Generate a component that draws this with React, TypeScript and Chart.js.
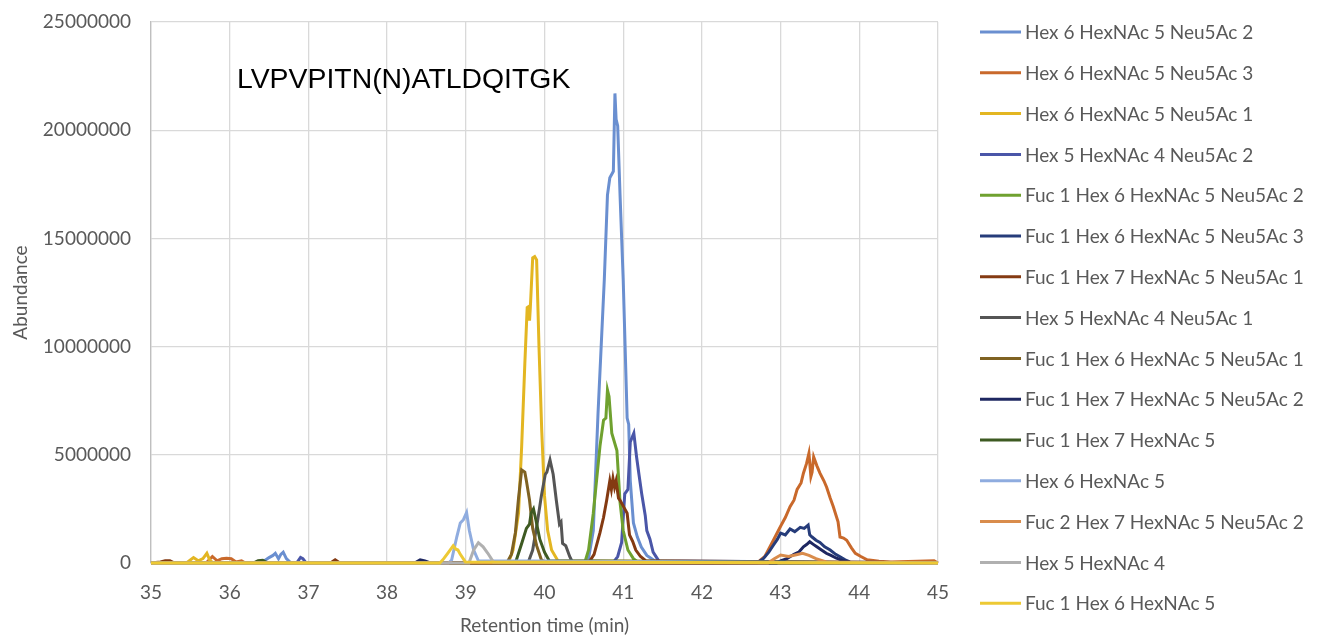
import React, { useEffect, useRef } from 'react';
import { Chart, registerables } from 'chart.js';

Chart.register(...registerables);

const PEPTIDE = 'LVPVPITN(N)ATLDQITGK';
const X_TITLE = 'Retention time (min)';
const Y_TITLE = 'Abundance';
const X_MIN = 35;
const X_MAX = 45;
const X_STEP = 1;
const Y_MIN = 0;
const Y_MAX = 25000000;
const Y_STEP = 5000000;
const MILLION = 1000000;

const seriesNames = [
  'Hex 6 HexNAc 5 Neu5Ac 2',
  'Hex 6 HexNAc 5 Neu5Ac 3',
  'Hex 6 HexNAc 5 Neu5Ac 1',
  'Hex 5 HexNAc 4 Neu5Ac 2',
  'Fuc 1 Hex 6 HexNAc 5 Neu5Ac 2',
  'Fuc 1 Hex 6 HexNAc 5 Neu5Ac 3',
  'Fuc 1 Hex 7 HexNAc 5 Neu5Ac 1',
  'Hex 5 HexNAc 4 Neu5Ac 1',
  'Fuc 1 Hex 6 HexNAc 5 Neu5Ac 1',
  'Fuc 1 Hex 7 HexNAc 5 Neu5Ac 2',
  'Fuc 1 Hex 7 HexNAc 5',
  'Hex 6 HexNAc 5',
  'Fuc 2 Hex 7 HexNAc 5 Neu5Ac 2',
  'Hex 5 HexNAc 4',
  'Fuc 1 Hex 6 HexNAc 5',
];

const seriesColors = [
  '#6A8FD0',
  '#C9692B',
  '#E3B622',
  '#4A56A8',
  '#6FA12F',
  '#263C7A',
  '#843A12',
  '#555555',
  '#7F6222',
  '#1E2761',
  '#3E5A22',
  '#8FACDF',
  '#D98C4C',
  '#B0B0B0',
  '#EDC934',
];

// Retention times (min) and abundances (millions)
const s1Time = [35, 36.4, 36.5, 36.55, 36.58, 36.62, 36.65, 36.68, 36.72, 36.78, 40.55, 40.62, 40.68, 40.72, 40.76, 40.8, 40.83, 40.86, 40.875, 40.895, 40.91, 40.93, 40.96, 41.0, 41.04, 41.05, 41.07, 41.09, 41.13, 41.18, 41.23, 41.3, 41.4, 45];
const s1Abund = [0, 0, 0.25, 0.35, 0.45, 0.2, 0.4, 0.5, 0.2, 0, 0, 1.5, 6.9, 10.0, 13.1, 17.0, 17.8, 18.0, 18.1, 21.7, 20.5, 20.2, 17.0, 13.1, 8.0, 6.7, 6.4, 3.8, 1.85, 1.2, 0.74, 0.35, 0.1, 0];

const s2Time = [35, 35.7, 35.78, 35.84, 35.9, 35.96, 36.02, 36.08, 36.15, 36.2, 36.25, 42.7, 42.8, 42.91, 43.0, 43.06, 43.12, 43.17, 43.21, 43.26, 43.29, 43.33, 43.36, 43.385, 43.4, 43.42, 43.46, 43.5, 43.55, 43.585, 43.63, 43.67, 43.73, 43.755, 43.8, 43.84, 43.9, 43.95, 44.02, 44.1, 44.25, 44.4, 44.95, 45];
const s2Abund = [0, 0, 0.3, 0.1, 0.2, 0.22, 0.2, 0.05, 0.1, 0, 0, 0, 0.3, 1.06, 1.7, 2.1, 2.6, 2.9, 3.4, 3.7, 4.15, 4.6, 5.07, 4.0, 4.2, 4.9, 4.5, 4.15, 3.8, 3.5, 3.0, 2.6, 1.9, 1.2, 1.15, 1.05, 0.7, 0.45, 0.3, 0.15, 0.08, 0.05, 0.1, 0];

const s3Time = [35, 35.45, 35.54, 35.6, 35.66, 35.71, 35.75, 35.8, 39.54, 39.6, 39.67, 39.71, 39.75, 39.78, 39.8, 39.81, 39.82, 39.85, 39.875, 39.9, 39.93, 39.965, 40.0, 40.04, 40.09, 40.17, 45];
const s3Abund = [0, 0, 0.25, 0.1, 0.2, 0.45, 0.1, 0, 0, 0.6, 2.3, 5.4, 9.2, 11.8, 11.85, 11.2, 11.8, 14.1, 14.16, 14.0, 10.0, 6.1, 3.1, 1.5, 0.6, 0.1, 0];

const s4Time = [35, 36.85, 36.9, 36.93, 36.97, 40.87, 40.93, 40.98, 41.02, 41.06, 41.09, 41.135, 41.17, 41.2, 41.235, 41.28, 41.3, 41.34, 41.38, 41.46, 45];
const s4Abund = [0, 0, 0.26, 0.2, 0, 0, 0.3, 0.95, 3.2, 3.4, 5.6, 6.0, 4.9, 4.1, 3.2, 2.2, 1.5, 1.1, 0.5, 0.05, 0];

const s5Time = [35, 40.51, 40.56, 40.62, 40.705, 40.75, 40.78, 40.8, 40.82, 40.855, 40.92, 40.96, 41.0, 41.06, 41.13, 41.2, 45];
const s5Abund = [0, 0, 0.6, 2.3, 5.4, 6.6, 6.7, 8.0, 7.7, 6.0, 5.2, 2.8, 1.5, 0.6, 0.2, 0, 0];

const s6Time = [35, 42.7, 42.78, 42.85, 42.91, 42.96, 43.0, 43.06, 43.12, 43.18, 43.25, 43.3, 43.35, 43.37, 43.4, 43.45, 43.5, 43.56, 43.63, 43.7, 43.75, 43.82, 43.88, 45];
const s6Abund = [0, 0, 0.2, 0.5, 0.83, 1.1, 1.38, 1.3, 1.57, 1.45, 1.65, 1.6, 1.75, 1.3, 1.2, 1.05, 0.95, 0.75, 0.6, 0.4, 0.3, 0.15, 0.05, 0];

const s7Time = [35, 35.12, 35.18, 35.24, 35.3, 37.28, 37.34, 37.4, 40.56, 40.63, 40.705, 40.75, 40.79, 40.83, 40.85, 40.87, 40.89, 40.91, 40.94, 40.96, 41.02, 41.05, 41.08, 41.12, 41.16, 41.22, 41.29, 45];
const s7Abund = [0, 0.05, 0.1, 0.1, 0, 0, 0.15, 0, 0, 0.4, 1.4, 2.1, 2.9, 3.8, 3.4, 3.9, 3.5, 3.8, 3.0, 2.9, 2.5, 2.3, 1.3, 1.0, 0.6, 0.3, 0.1, 0];

const s8Time = [35, 39.79, 39.85, 39.91, 39.96, 40.01, 40.03, 40.07, 40.11, 40.15, 40.19, 40.21, 40.23, 40.27, 40.32, 40.36, 45];
const s8Abund = [0, 0, 0.6, 1.9, 3.1, 4.1, 4.2, 4.76, 4.1, 2.9, 1.8, 1.9, 0.9, 0.8, 0.3, 0, 0];

const s9Time = [35, 39.52, 39.58, 39.63, 39.67, 39.71, 39.75, 39.77, 39.81, 39.85, 39.9, 39.96, 40.02, 45];
const s9Abund = [0, 0, 0.4, 1.4, 3.0, 4.3, 4.2, 3.8, 2.9, 1.6, 0.8, 0.15, 0, 0];

const s10Time = [35, 38.35, 38.42, 38.48, 38.55, 42.95, 43.0, 43.08, 43.17, 43.23, 43.29, 43.33, 43.37, 43.42, 43.46, 43.52, 43.58, 43.64, 43.71, 43.8, 43.88, 45];
const s10Abund = [0, 0, 0.15, 0.1, 0, 0, 0.1, 0.2, 0.4, 0.5, 0.75, 0.85, 0.98, 0.85, 0.75, 0.6, 0.45, 0.35, 0.22, 0.1, 0.04, 0];

const s11Time = [35, 36.3, 36.36, 36.42, 36.48, 39.63, 39.71, 39.77, 39.81, 39.83, 39.86, 39.89, 39.94, 40.0, 40.06, 45];
const s11Abund = [0, 0, 0.1, 0.12, 0, 0, 0.9, 1.6, 1.8, 2.3, 2.5, 2.0, 1.1, 0.5, 0.1, 0];

const s12Time = [35, 38.78, 38.82, 38.885, 38.93, 38.97, 39.01, 39.045, 39.1, 39.16, 45];
const s12Abund = [0, 0, 0.14, 1.2, 1.85, 2.0, 2.33, 1.5, 0.6, 0.1, 0];

const s13Time = [35, 42.84, 42.92, 43.0, 43.1, 43.2, 43.28, 43.36, 43.45, 43.52, 43.58, 45];
const s13Abund = [0, 0, 0.2, 0.37, 0.3, 0.38, 0.45, 0.35, 0.2, 0.12, 0.05, 0];

const s14Time = [35, 39.04, 39.1, 39.16, 39.22, 39.28, 39.35, 45];
const s14Abund = [0, 0, 0.6, 0.94, 0.75, 0.45, 0.05, 0];

const s15Time = [35, 38.67, 38.72, 38.77, 38.84, 38.87, 38.9, 38.93, 38.995, 45];
const s15Abund = [0, 0, 0.2, 0.45, 0.8, 0.65, 0.6, 0.4, 0.05, 0];

const seriesTimes = [s1Time, s2Time, s3Time, s4Time, s5Time, s6Time, s7Time, s8Time, s9Time, s10Time, s11Time, s12Time, s13Time, s14Time, s15Time];
const seriesAbund = [s1Abund, s2Abund, s3Abund, s4Abund, s5Abund, s6Abund, s7Abund, s8Abund, s9Abund, s10Abund, s11Abund, s12Abund, s13Abund, s14Abund, s15Abund];

const TEXT_GRAY = '#595959';
const GRID = '#D9D9D9';
const FONT = 'Lato';
const FONT_SIZE = 19;

const sideLegend = {
  id: 'sideLegend',
  afterDraw(chart: any) {
    const ctx = chart.ctx;
    const x0 = chart.chartArea.right + 42;
    ctx.save();
    ctx.font = `${FONT_SIZE}px ${FONT}`;
    ctx.textBaseline = 'middle';
    ctx.textAlign = 'left';
    chart.data.datasets.forEach((ds: any, i: number) => {
      const y = 32 + i * 40.8;
      ctx.strokeStyle = ds.borderColor;
      ctx.lineWidth = 3;
      ctx.beginPath();
      ctx.moveTo(x0, y);
      ctx.lineTo(x0 + 41, y);
      ctx.stroke();
      ctx.fillStyle = TEXT_GRAY;
      ctx.fillText(ds.label, x0 + 45, y + 1);
    });
    ctx.restore();
  },
};

const peptideLabel = {
  id: 'peptideLabel',
  afterDraw(chart: any) {
    const ctx = chart.ctx;
    ctx.save();
    ctx.font = '28.4px "Liberation Sans", Arial, sans-serif';
    ctx.fillStyle = '#000000';
    ctx.textBaseline = 'alphabetic';
    ctx.textAlign = 'left';
    ctx.fillText(PEPTIDE, chart.chartArea.left + 86, 88);
    ctx.restore();
  },
};

export default function App() {
  const canvasRef = useRef<HTMLCanvasElement | null>(null);

  useEffect(() => {
    document.body.style.margin = '0';
    const canvas = canvasRef.current;
    if (!canvas) return;
    const n = seriesNames.length;
    const datasets = seriesNames.map((name, i) => ({
      label: name,
      data: seriesTimes[i].map((t, j) => ({ x: t, y: seriesAbund[i][j] * MILLION })),
      borderColor: seriesColors[i],
      backgroundColor: seriesColors[i],
      borderWidth: 3,
      pointRadius: 0,
      tension: 0,
      fill: false,
      clip: false as any,
      order: n - i,
    }));

    const chart = new Chart(canvas, {
      type: 'line',
      data: { datasets },
      plugins: [sideLegend, peptideLabel],
      options: {
        animation: false,
        responsive: false,
        maintainAspectRatio: false,
        layout: { padding: { top: 22, right: 402, left: 0, bottom: 0 } },
        plugins: {
          legend: { display: false },
          tooltip: { enabled: false },
          title: { display: false },
        },
        scales: {
          x: {
            type: 'linear',
            min: X_MIN,
            max: X_MAX,
            ticks: {
              stepSize: X_STEP,
              color: TEXT_GRAY,
              font: { family: FONT, size: FONT_SIZE },
              padding: 18,
              maxRotation: 0,
            },
            grid: { color: GRID, lineWidth: 1.3, drawTicks: false },
            border: { color: '#BFBFBF', width: 1.3 },
            title: {
              display: true,
              text: X_TITLE,
              color: TEXT_GRAY,
              font: { family: FONT, size: FONT_SIZE },
              padding: { top: 0, bottom: 0 },
            },
            afterFit: (scale: any) => {
              scale.height = 74;
              scale.paddingLeft = 0;
              scale.paddingRight = 0;
            },
          },
          y: {
            type: 'linear',
            min: Y_MIN,
            max: Y_MAX,
            ticks: {
              stepSize: Y_STEP,
              color: TEXT_GRAY,
              font: { family: FONT, size: FONT_SIZE },
              padding: 20,
              callback: (v: any) => String(v),
            },
            grid: { color: GRID, lineWidth: 1.3, drawTicks: false },
            border: { color: '#BFBFBF', width: 1.3 },
            title: {
              display: true,
              text: Y_TITLE,
              color: TEXT_GRAY,
              font: { family: FONT, size: FONT_SIZE },
              padding: { top: 9, bottom: 0 },
            },
            afterFit: (scale: any) => {
              scale.width = 151;
              scale.paddingTop = 0;
              scale.paddingBottom = 0;
            },
          },
        },
      },
    });
    return () => chart.destroy();
  }, []);

  return (
    <div style={{ width: 1340, height: 637, position: 'relative' }}>
      <canvas ref={canvasRef} width={1340} height={637} style={{ display: 'block', width: 1340, height: 637 }} />
    </div>
  );
}
